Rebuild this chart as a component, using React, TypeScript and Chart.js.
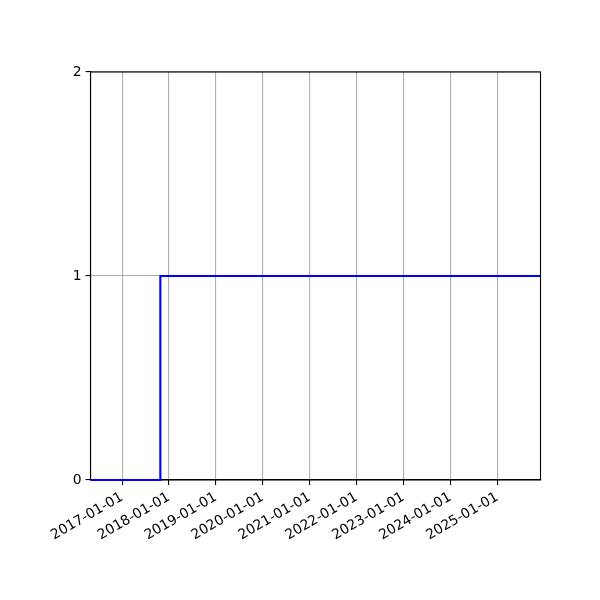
import React, { useEffect, useRef } from "react";
import { Chart, registerables } from "chart.js";

Chart.register(...registerables);

// Data
const pointDates = ["2016-04-30", "2017-10-26", "2017-10-26", "2025-12-04"];
const pointValues = [0, 0, 1, 1];
const xTickDates = [
  "2017-01-01",
  "2018-01-01",
  "2019-01-01",
  "2020-01-01",
  "2021-01-01",
  "2022-01-01",
  "2023-01-01",
  "2024-01-01",
  "2025-01-01",
];
const yTicks = [0, 1, 2];
const xMinDate = "2016-04-30";
const xMaxDate = "2025-12-04";

const toMs = (s: string) => {
  const [y, m, d] = s.split("-").map(Number);
  return Date.UTC(y, m - 1, d);
};
const fmt = (v: number) => {
  const d = new Date(v);
  const p = (n: number) => String(n).padStart(2, "0");
  return `${d.getUTCFullYear()}-${p(d.getUTCMonth() + 1)}-${p(d.getUTCDate())}`;
};

const framePlugin = {
  id: "frame",
  beforeDatasetsDraw(chart: any) {
    const { ctx, chartArea } = chart;
    ctx.save();
    ctx.strokeStyle = "#000";
    ctx.lineWidth = 1.1;
    ctx.strokeRect(chartArea.left, chartArea.top, chartArea.right - chartArea.left, chartArea.bottom - chartArea.top);
    ctx.restore();
  },
};

export default function App() {
  const ref = useRef<HTMLCanvasElement>(null);
  useEffect(() => {
    document.body.style.margin = "0";
    if (!ref.current) return;
    const font = { family: "'DejaVu Sans', sans-serif", size: 13.9 };
    const chart = new Chart(ref.current, {
      type: "line",
      data: {
        datasets: [
          {
            data: pointDates.map((d, i) => ({ x: toMs(d), y: pointValues[i] })),
            borderColor: "#0000ff",
            borderWidth: 2.1,
            pointRadius: 0,
            fill: false,
            tension: 0,
            clip: false,
          },
        ],
      },
      options: {
        responsive: false,
        animation: false,
        devicePixelRatio: 1,
        layout: { padding: { left: 0, top: 72, right: 59.5, bottom: 0 } },
        plugins: { legend: { display: false }, tooltip: { enabled: false } },
        scales: {
          x: {
            type: "linear",
            min: toMs(xMinDate),
            max: toMs(xMaxDate),
            afterBuildTicks: (scale: any) => {
              scale.ticks = xTickDates.map((d) => ({ value: toMs(d) }));
            },
            afterFit: (scale: any) => {
              scale.height = 120;
            },
            ticks: {
              autoSkip: false,
              maxRotation: 30,
              minRotation: 30,
              padding: 4,
              color: "#000",
              font,
              callback: (v: any) => fmt(Number(v)),
            },
            grid: { color: "#b0b0b0", lineWidth: 1.1, tickColor: "#000", tickLength: 5 },
            border: { color: "#000", width: 1.1 },
          },
          y: {
            min: 0,
            max: 2,
            afterBuildTicks: (scale: any) => {
              scale.ticks = yTicks.map((v) => ({ value: v }));
            },
            afterFit: (scale: any) => {
              scale.width = 90.5;
            },
            ticks: { padding: 4, color: "#000", font, callback: (v: any) => String(v) },
            grid: { color: "#b0b0b0", lineWidth: 1.1, tickColor: "#000", tickLength: 5 },
            border: { color: "#000", width: 1.1 },
          },
        },
      },
      plugins: [framePlugin],
    } as any);
    return () => chart.destroy();
  }, []);
  return (
    <div style={{ width: 600, height: 600, background: "#fff" }}>
      <canvas ref={ref} width={600} height={600} style={{ display: "block" }} />
    </div>
  );
}
